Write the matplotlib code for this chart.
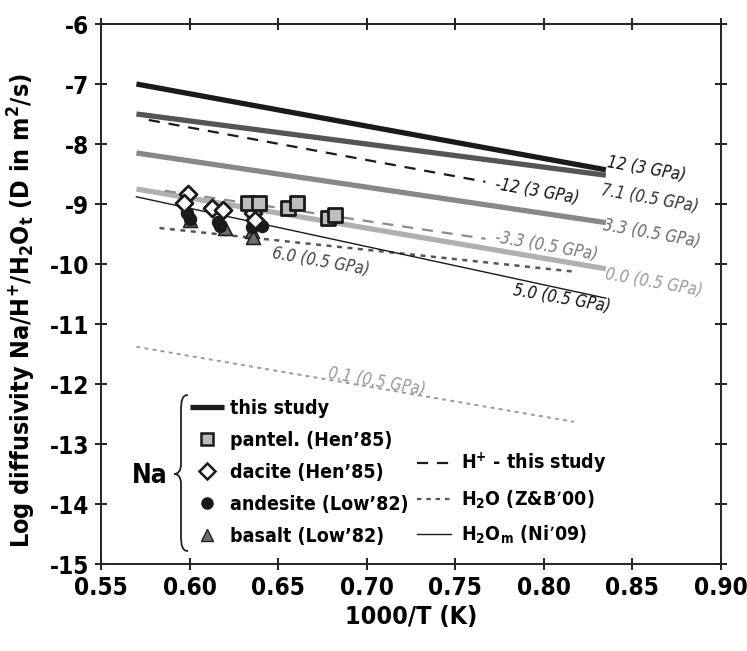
import matplotlib
matplotlib.use("Agg")
import matplotlib.pyplot as plt
from matplotlib.path import Path
from matplotlib.patches import PathPatch
from matplotlib.lines import Line2D

FAM = ['DejaVu Sans']
plt.rcParams['font.family'] = FAM
plt.rcParams['font.stretch'] = 'condensed'
plt.rcParams['mathtext.default'] = 'regular'

# ---------------- data ----------------
study_T = [0.57, 0.835]
study_12 = [-7.0, -8.43]
study_71 = [-7.5, -8.52]
study_33 = [-8.15, -9.31]
study_00 = [-8.75, -10.08]

hplus12_T = [0.577, 0.767]
hplus_12 = [-7.60, -8.63]
hplus33_T = [0.586, 0.767]
hplus_33 = [-8.78, -9.58]

h2o60_T = [0.583, 0.818]
h2o_60 = [-9.40, -10.13]
h2o01_T = [0.57, 0.817]
h2o_01 = [-11.38, -12.63]

h2om_T = [0.57, 0.835]
h2om_50 = [-8.88, -10.57]

pantel_T = [0.633, 0.639, 0.6556, 0.6607, 0.678, 0.682]
pantel_D = [-8.98, -8.98, -9.07, -8.98, -9.23, -9.18]
dacite_T = [0.599, 0.597, 0.6127, 0.619, 0.636, 0.637]
dacite_D = [-8.84, -8.98, -9.07, -9.10, -9.15, -9.27]
andes_T = [0.5985, 0.600, 0.616, 0.617, 0.635, 0.641]
andes_D = [-9.15, -9.25, -9.30, -9.36, -9.38, -9.37]
basalt_T = [0.600, 0.620, 0.635, 0.636]
basalt_D = [-9.27, -9.40, -9.45, -9.55]

x_ticks = [0.55, 0.60, 0.65, 0.70, 0.75, 0.80, 0.85, 0.90]
y_ticks = [-15, -14, -13, -12, -11, -10, -9, -8, -7, -6]

# ---------------- figure ----------------
fig = plt.figure(figsize=(7.47, 6.51), dpi=100)
ax = fig.add_axes([101/747, 1-564/651, 620/747, 540/651])

ax.plot(study_T, study_12, color='#1a1a1a', lw=3.8, solid_capstyle='butt', zorder=3)
ax.plot(study_T, study_71, color='#555555', lw=3.8, solid_capstyle='butt', zorder=3)
ax.plot(study_T, study_33, color='#888888', lw=3.8, solid_capstyle='butt', zorder=3)
ax.plot(study_T, study_00, color='#b0b0b0', lw=3.8, solid_capstyle='butt', zorder=3)

ax.plot(hplus12_T, hplus_12, color='#1a1a1a', lw=1.6, dashes=(5, 4), zorder=3)
ax.plot(hplus33_T, hplus_33, color='#8c8c8c', lw=1.6, dashes=(5, 4), zorder=3)
ax.plot(h2o60_T, h2o_60, color='#555555', lw=1.8, dashes=(2, 2.2), zorder=3)
ax.plot(h2o01_T, h2o_01, color='#9a9a9a', lw=1.4, dashes=(2, 2.2), zorder=3)
ax.plot(h2om_T, h2om_50, color='#1a1a1a', lw=1.0, zorder=3)

ax.scatter(basalt_T, basalt_D, marker='^', s=100, facecolor='#6e6e6e', edgecolor='#222222', lw=1.2, zorder=4)
ax.scatter(andes_T, andes_D, marker='o', s=75, facecolor='#1a1a1a', edgecolor='#1a1a1a', lw=1.0, zorder=5)
ax.scatter(dacite_T, dacite_D, marker='D', s=75, facecolor='white', edgecolor='#1a1a1a', lw=2.0, zorder=6)
ax.scatter(pantel_T, pantel_D, marker='s', s=90, facecolor='#bdbdbd', edgecolor='#1a1a1a', lw=2.0, zorder=6)

# line annotations
lab = dict(fontsize=12, style='italic', rotation=-10, rotation_mode='anchor', ha='left', va='center')
ax.text(0.836, -8.30, '12 (3 GPa)', color='#111111', **lab)
ax.text(0.8325, -8.77, '7.1 (0.5 GPa)', color='#333333', **lab)
ax.text(0.8335, -9.35, '3.3 (0.5 GPa)', color='#6a6a6a', **lab)
ax.text(0.8345, -10.17, '0.0 (0.5 GPa)', color='#9a9a9a', **lab)
ax.text(0.7724, -8.67, '-12 (3 GPa)', color='#111111', **lab)
ax.text(0.7724, -9.55, '-3.3 (0.5 GPa)', color='#7a7a7a', **lab)
ax.text(0.7826, -10.43, '5.0 (0.5 GPa)', color='#111111', **lab)
ax.text(0.6465, -9.82, '6.0 (0.5 GPa)', color='#444444', **lab)
ax.text(0.678, -11.82, '0.1 (0.5 GPa)', color='#9a9a9a', **lab)

# axes
ax.set_xlim(0.55, 0.90)
ax.set_ylim(-15, -6)
ax.set_xticks(x_ticks)
ax.set_yticks(y_ticks)
ax.set_xticklabels([f'{v:.2f}' for v in x_ticks])
ax.set_yticklabels([f'{v}' for v in y_ticks])
ax.tick_params(direction='inout', length=9, width=1.4, top=True, right=True,
               labeltop=False, labelright=False, labelsize=17.5, color='#222222', pad=4)
for lbl in ax.get_xticklabels() + ax.get_yticklabels():
    lbl.set_fontweight('bold')
for sp in ax.spines.values():
    sp.set_linewidth(1.4)
    sp.set_color('#222222')
ax.set_xlabel('1000/T (K)', fontsize=18, fontweight='bold', labelpad=4)
ax.set_ylabel(r'Log diffusivity Na/H$^{+}$/H$_{2}$O$_{t}$ (D in m$^{2}$/s)', fontsize=18,
              fontweight='bold')
ax.yaxis.set_label_coords(-0.102, 0.47)

# legend 1 (Na)
h1 = [Line2D([], [], color='#1a1a1a', lw=3.8, solid_capstyle='butt'),
      Line2D([], [], ls='none', marker='s', ms=8.5, mfc='#bdbdbd', mec='#1a1a1a', mew=1.8),
      Line2D([], [], ls='none', marker='D', ms=8, mfc='white', mec='#1a1a1a', mew=1.8),
      Line2D([], [], ls='none', marker='o', ms=8, mfc='#1a1a1a', mec='#1a1a1a'),
      Line2D([], [], ls='none', marker='^', ms=9, mfc='#6e6e6e', mec='#222222', mew=1.0)]
l1 = ['this study', 'pantel. (Hen\u201985)', 'dacite (Hen\u201985)', 'andesite (Low\u201982)', 'basalt (Low\u201982)']
prop = dict(family=FAM, weight='bold', size=14, stretch='condensed')
leg1 = ax.legend(h1, l1, loc='upper left', bbox_to_anchor=(0.143, 0.305), frameon=False,
                 prop=prop, handlelength=1.75, handletextpad=0.35,
                 labelspacing=0.66, borderpad=0, borderaxespad=0)
ax.add_artist(leg1)

h2 = [Line2D([], [], color='#1a1a1a', lw=1.6, dashes=(5, 4)),
      Line2D([], [], color='#555555', lw=1.6, dashes=(2, 2.2)),
      Line2D([], [], color='#1a1a1a', lw=1.0)]
l2 = ['H$^{+}$ - this study', 'H$_{2}$O (Z&B\u201900)', 'H$_{2}$O$_{m}$ (Ni\u201909)']
leg2 = ax.legend(h2, l2, loc='upper left', bbox_to_anchor=(0.51, 0.209), frameon=False,
                 prop=prop, handlelength=1.75, handletextpad=0.5,
                 labelspacing=0.64, borderpad=0, borderaxespad=0)

# Na + brace
fig.text(150/747, 1-476/651, 'Na', fontsize=19, fontweight='bold', ha='center', va='center')
def P(px, py):
    return (px/747, 1-py/651)
x0, top, mid, bot = 181, 395, 474, 551
verts = [P(x0+7, top), P(x0+1, top), P(x0, top+6), P(x0, top+16),
         P(x0, mid-10),
         P(x0, mid-3), P(x0-3, mid), P(x0-7, mid),
         P(x0-3, mid), P(x0, mid+3), P(x0, mid+10),
         P(x0, bot-16),
         P(x0, bot-6), P(x0+1, bot), P(x0+7, bot)]
codes = [Path.MOVETO, Path.CURVE4, Path.CURVE4, Path.CURVE4,
         Path.LINETO,
         Path.CURVE4, Path.CURVE4, Path.CURVE4,
         Path.CURVE4, Path.CURVE4, Path.CURVE4,
         Path.LINETO,
         Path.CURVE4, Path.CURVE4, Path.CURVE4]
fig.patches.append(PathPatch(Path(verts, codes), transform=fig.transFigure, fill=False,
                             lw=1.3, edgecolor='#222222'))

fig.savefig('out.png', dpi=100)
